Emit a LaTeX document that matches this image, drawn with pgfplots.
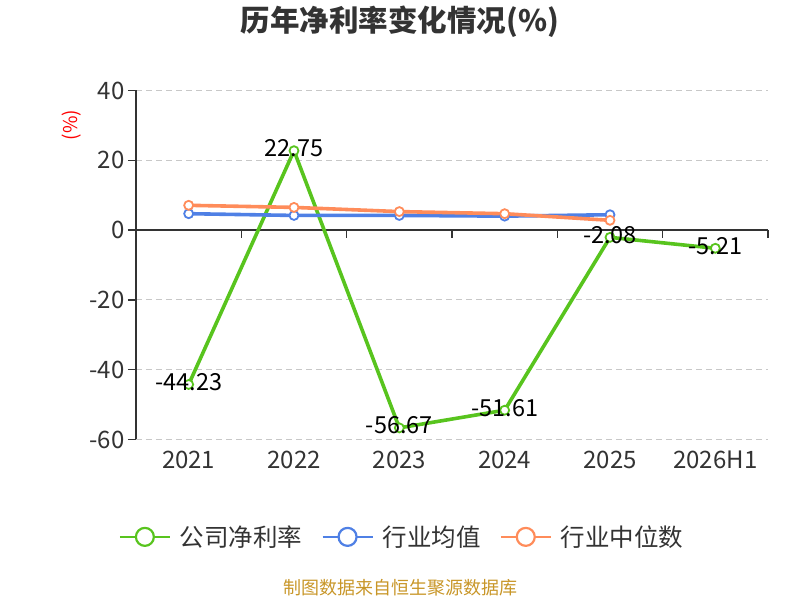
\documentclass[border=0pt]{standalone}
\usepackage{pgfplots}
\pgfplotsset{compat=1.18}
\usepackage{fontspec}
\setmainfont{Noto Sans CJK SC}
\definecolor{cgreen}{RGB}{88,196,30}
\definecolor{cblue}{RGB}{79,128,229}
\definecolor{corange}{RGB}{255,140,90}
\definecolor{ctext}{RGB}{51,51,51}
\definecolor{cgrid}{RGB}{200,200,200}
\definecolor{cfoot}{RGB}{200,150,40}
\begin{document}
\begin{tikzpicture}[x=1bp,y=1bp]
\useasboundingbox (-136,-160.5) rectangle (664,439.5);
\begin{axis}[
  at={(0,0)}, anchor=south west,
  scale only axis, width=632bp, height=349bp,
  xmin=-0.5, xmax=5.5, ymin=-60, ymax=40,
  axis x line*=bottom, axis y line*=left,
  x axis line style={draw=none},
  y axis line style={ctext, line width=1.5bp},
  xtick={0,1,2,3,4,5}, xticklabels={2021,2022,2023,2024,2025,2026H1},
  x tick style={draw=none},
  ytick={-60,-40,-20,20,40}, yticklabels={-60,-40,-20,20,40},
  extra y ticks={0}, extra y tick labels={0},
  y tick style={ctext, line width=1.5bp},
  tick align=outside, major tick length=8bp,
  ymajorgrids,
  major grid style={cgrid, dash pattern=on 6bp off 4bp, line width=1bp},
  extra y tick style={major grid style={solid, ctext, line width=1.5bp}},
  ticklabel style={font=\fontsize{24bp}{28bp}\selectfont, text=ctext},
  /pgf/number format/assume math mode=true,
  clip=false,
  legend style={at={(0.421,-0.279)}, anchor=center, draw=none, fill=none,
    legend columns=3, font=\fontsize{24.5bp}{28bp}\selectfont, text=ctext,
    /tikz/every even column/.append style={column sep=17bp},
    /tikz/every odd column/.append style={column sep=7bp}},
  legend image code/.code={
    \draw[#1, mark=none, line width=2.2bp] (0bp,0bp) -- (50bp,0bp);
    \draw[#1, mark=none, line width=2.2bp, fill=white] (25bp,0bp) circle (9bp);},
]
\pgfplotsinvokeforeach{0.5,1.5,2.5,3.5,4.5,5.5}{
  \draw[ctext, line width=1.5bp] (axis cs:#1,0) -- ([yshift=-8bp]axis cs:#1,0);
}
\addplot[cgreen, line width=3.6bp, mark=*, mark size=4.5bp,
  mark options={fill=white, draw=cgreen, line width=1.8bp},
  nodes near coords, point meta=explicit symbolic,
  every node near coord/.style={anchor=center, yshift=2.5bp, text=black,
    font=\fontsize{23.5bp}{27bp}\selectfont}]
  coordinates {(0,-44.23)[-44.23] (1,22.75)[22.75] (2,-56.67)[-56.67]
               (3,-51.61)[-51.61] (4,-2.08)[-2.08] (5,-5.21)[-5.21]};
\addlegendentry{公司净利率}
\addplot[cblue, line width=3.6bp, mark=*, mark size=4.5bp,
  mark options={fill=white, draw=cblue, line width=1.8bp}]
  coordinates {(0,4.7) (1,4.2) (2,4.2) (3,4.0) (4,4.4)};
\addlegendentry{行业均值}
\addplot[corange, line width=3.6bp, mark=*, mark size=4.5bp,
  mark options={fill=white, draw=corange, line width=1.8bp}]
  coordinates {(0,7.1) (1,6.5) (2,5.3) (3,4.7) (4,2.8)};
\addlegendentry{行业中位数}
\end{axis}
\node[font=\bfseries\fontsize{29.5bp}{33bp}\selectfont, text=ctext] at (264,417.5) {历年净利率变化情况(\%)};
\node[rotate=90, text=red, font=\fontsize{19bp}{21bp}\selectfont] at (-64,314.5) {(\%)};
\node[text=cfoot, font=\fontsize{18bp}{20bp}\selectfont] at (264,-148.5) {制图数据来自恒生聚源数据库};
\end{tikzpicture}
\end{document}
